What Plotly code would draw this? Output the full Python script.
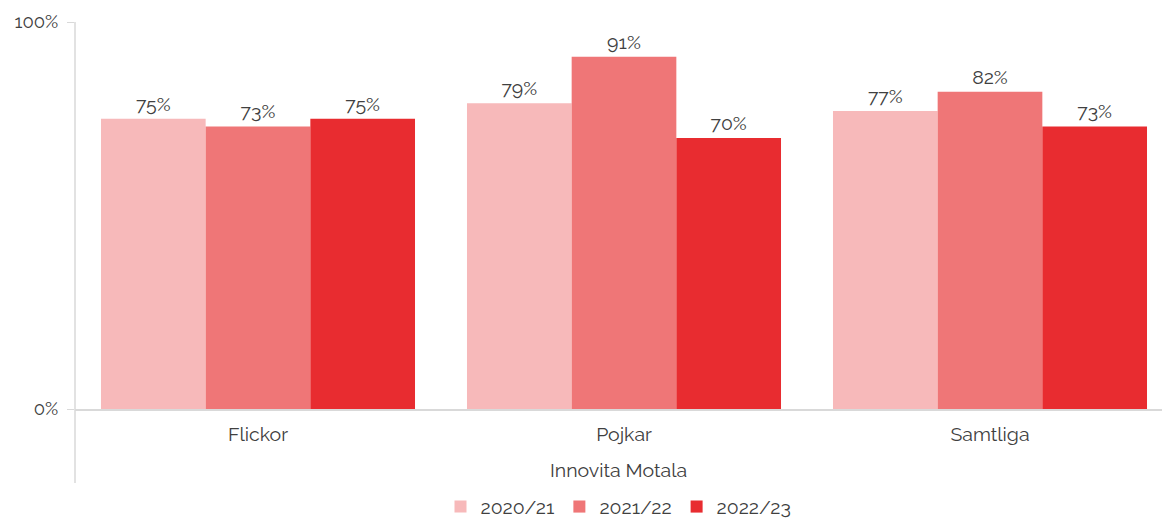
import plotly.graph_objects as go

# data
categories = ['Flickor', 'Pojkar', 'Samtliga']
years = ['2020/21', '2021/22', '2022/23']
values_2020 = [75, 79, 77]
values_2021 = [73, 91, 82]
values_2022 = [75, 70, 73]
colors = ['#F7B9BA', '#EF7677', '#E82C30']

series = [values_2020, values_2021, values_2022]

font_family = 'Raleway, Lato, sans-serif'
text_color = '#404040'

data = []
for name, vals, col in zip(years, series, colors):
    data.append(go.Bar(x=categories,
                       y=vals,
                       name=name,
                       marker=dict(color=col, line=dict(width=0)),
                       text=[f'{v}%' for v in vals],
                       textposition='outside',
                       textfont=dict(size=19.5, color=text_color),
                       cliponaxis=False))

fig = go.Figure(data)

fig.update_layout(
    barmode='group',
    bargap=0.142,
    bargroupgap=0,
    font=dict(family=font_family, size=19, color=text_color),
    plot_bgcolor='white',
    paper_bgcolor='white',
    width=1162,
    height=518,
    margin=dict(l=75, r=0, t=22, b=109, autoexpand=False),
    showlegend=True,
    legend=dict(orientation='h', x=0.5, xanchor='center', y=-0.253, yanchor='middle',
                font=dict(size=19.5, color=text_color), itemwidth=30,
                traceorder='normal'),
    uniformtext=dict(mode=False),
)

fig.update_xaxes(range=[-0.5, -0.5 + 1087/366], showline=True, linecolor='#D9D9D9', linewidth=1.5,
                 ticks='', tickfont=dict(size=19.5), showgrid=False, zeroline=False,
                 ticklabelstandoff=7)
fig.update_yaxes(range=[0, 100], tickvals=[0, 100], ticktext=['0%', '100%'],
                 showgrid=False, zeroline=False, showline=False,
                 ticks='outside', ticklen=7, tickcolor='#D9D9D9', tickfont=dict(size=18.5),
                 ticklabelstandoff=5)

# vertical axis line running below the category labels
fig.add_shape(type='line', xref='paper', yref='paper', x0=0, x1=0, y0=1, y1=-0.191,
              line=dict(color='#D9D9D9', width=1.5))

fig.add_annotation(text='Innovita Motala', xref='paper', yref='paper', x=0.5, y=-0.158,
                   showarrow=False, font=dict(size=19.5, color=text_color), yanchor='middle')

fig.write_html('out.html', config={'displayModeBar': False},
               post_script="document.body.style.margin='0';")
